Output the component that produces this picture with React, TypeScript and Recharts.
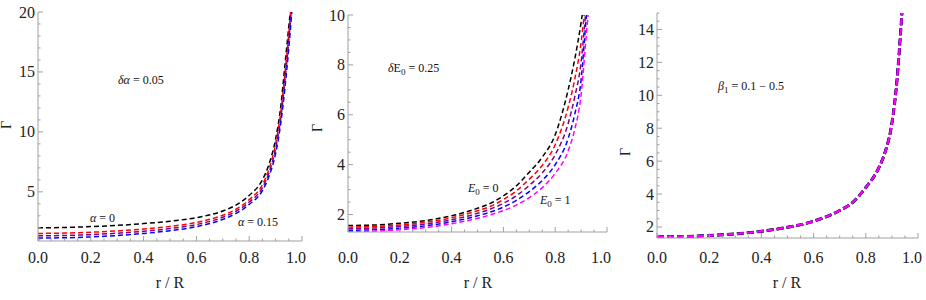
import React from 'react';
import { LineChart, Line, XAxis, YAxis } from 'recharts';

// shared x ticks (r / R)
const xTicks = [0, 0.05, 0.1, 0.15, 0.2, 0.25, 0.3, 0.35, 0.4, 0.45, 0.5, 0.55, 0.6, 0.65, 0.7, 0.75, 0.8, 0.85, 0.9, 0.95, 1];
const xMajor = [0, 0.2, 0.4, 0.6, 0.8, 1];

// panel 1: alpha = 0 .. 0.15
const rAlpha = [0, 0.1, 0.2, 0.3, 0.4, 0.5, 0.6, 0.7, 0.75, 0.8, 0.85, 0.875, 0.9, 0.92, 0.935, 0.95, 0.96, 0.97];
const alpha0 = [2.0, 2.03, 2.1, 2.2, 2.35, 2.55, 2.85, 3.4, 3.9, 4.7, 6.0, 7.3, 9.4, 12.2, 15.5, 18.8, 21, 24];
const alpha005 = [1.53, 1.56, 1.63, 1.74, 1.9, 2.12, 2.45, 3.05, 3.55, 4.35, 5.6, 6.9, 9.0, 11.7, 14.8, 18.2, 20.8, 23.5];
const alpha010 = [1.33, 1.36, 1.43, 1.55, 1.71, 1.94, 2.27, 2.88, 3.38, 4.15, 5.35, 6.6, 8.6, 11.2, 14.2, 17.6, 20.2, 23];
const alpha015 = [1.14, 1.17, 1.24, 1.36, 1.53, 1.76, 2.1, 2.7, 3.2, 3.95, 5.1, 6.3, 8.2, 10.8, 13.6, 17, 19.6, 22.5];
const alphaYTicks = [1, 2, 3, 4, 5, 6, 7, 8, 9, 10, 11, 12, 13, 14, 15, 16, 17, 18, 19, 20];
const alphaYMajor = [5, 10, 15, 20];

// panel 2: E0 = 0 .. 1
const rE = [0, 0.1, 0.2, 0.3, 0.4, 0.5, 0.55, 0.6, 0.65, 0.7, 0.75, 0.8, 0.85, 0.875, 0.9, 0.92, 0.935];
const e0 = [1.56, 1.58, 1.65, 1.76, 1.95, 2.25, 2.45, 2.75, 3.15, 3.7, 4.3, 5.2, 7.0, 8.2, 9.7, 11.2, 12.5];
const e025 = [1.5, 1.52, 1.58, 1.69, 1.87, 2.15, 2.33, 2.6, 2.95, 3.42, 3.97, 4.8, 6.3, 7.4, 8.9, 10.8, 12.1];
const e050 = [1.44, 1.46, 1.52, 1.62, 1.79, 2.05, 2.22, 2.45, 2.75, 3.17, 3.67, 4.4, 5.65, 6.7, 8.1, 10.3, 11.6];
const e075 = [1.37, 1.39, 1.45, 1.55, 1.71, 1.95, 2.1, 2.3, 2.57, 2.92, 3.37, 4.0, 5.05, 6.0, 7.4, 9.9, 11.5];
const e1 = [1.31, 1.33, 1.39, 1.48, 1.63, 1.85, 1.99, 2.16, 2.38, 2.68, 3.08, 3.65, 4.55, 5.4, 6.8, 9.2, 10.9];
const eYTicks = [1.5, 2, 2.5, 3, 3.5, 4, 4.5, 5, 5.5, 6, 6.5, 7, 7.5, 8, 8.5, 9, 9.5, 10];
const eYMajor = [2, 4, 6, 8, 10];

// panel 3: beta1 = 0.1 .. 0.5 (curves coincide)
const rBeta = [0, 0.1, 0.2, 0.3, 0.4, 0.5, 0.6, 0.7, 0.75, 0.8, 0.85, 0.875, 0.9, 0.92, 0.935, 0.945, 0.955];
const beta = [1.4, 1.42, 1.48, 1.58, 1.74, 1.98, 2.35, 3.0, 3.5, 4.4, 5.6, 6.6, 8.3, 11.0, 14.2, 16.5, 19];
const bYTicks = [1.5, 2, 2.5, 3, 3.5, 4, 4.5, 5, 5.5, 6, 6.5, 7, 7.5, 8, 8.5, 9, 9.5, 10, 10.5, 11, 11.5, 12, 12.5, 13, 13.5, 14, 14.5, 15];
const bYMajor = [2, 4, 6, 8, 10, 12, 14];

const FRAME = '#a0a0a0';
const FONT = 'Liberation Serif, Times New Roman, serif';
const LABEL_BASE = 263;
const EXTRA = 20; // room on the right so the "1.0" label is not clipped

type Series = { values: number[]; color: string; width: number; dash: string };

const isIn = (list: number[], v: number) => list.some((m) => Math.abs(m - v) < 1e-9);

function tickShape(side: string, major: number[], fmt?: (v: number) => string) {
  return (p: any) => {
    const v = p.payload.value;
    const big = isIn(major, v);
    const len = big ? 5 : 2.5;
    const { x, y } = p;
    if (side === 'bottom') {
      // the last label sits a little inside the frame, as in the original
      const lx = v === 1 ? x - 6 : x;
      return (
        <g>
          <line x1={x} y1={y} x2={x} y2={y - len} stroke={FRAME} />
          {big && fmt ? (
            <text x={lx} y={LABEL_BASE} textAnchor="middle" style={{ fontFamily: FONT, fontSize: 16 }} fill="#222">{fmt(v)}</text>
          ) : null}
        </g>
      );
    }
    if (side === 'top') return <line x1={x} y1={y} x2={x} y2={y + len} stroke={FRAME} />;
    if (side === 'left') {
      return (
        <g>
          <line x1={x} y1={y} x2={x + len} y2={y} stroke={FRAME} />
          {big && fmt ? (
            <text x={x - 3} y={y + 5.5} textAnchor="end" style={{ fontFamily: FONT, fontSize: 16 }} fill="#222">{fmt(v)}</text>
          ) : null}
        </g>
      );
    }
    return <line x1={x} y1={y} x2={x - len} y2={y} stroke={FRAME} />;
  };
}

type PanelProps = {
  left: number;
  r: number[];
  series: Series[];
  yDomain: [number, number];
  yTicks: number[];
  yMajor: number[];
  yWidth: number;
  marginRight: number;
  marginTop: number;
  xHeight: number;
};

function Panel({ left, r, series, yDomain, yTicks, yMajor, yWidth, marginRight, marginTop, xHeight }: PanelProps) {
  const data = r.map((rv, i) => {
    const row: Record<string, number> = { r: rv };
    series.forEach((s, k) => { row['s' + k] = s.values[i]; });
    return row;
  });
  return (
    <div style={{ position: 'absolute', left, top: 0 }}>
      <LineChart width={310 + EXTRA} height={300} data={data} margin={{ top: marginTop, right: marginRight + EXTRA, left: 0, bottom: 0 }}>
        <XAxis dataKey="r" type="number" domain={[0, 1]} ticks={xTicks} interval={0} height={xHeight}
          tickSize={0} tickMargin={0} tickLine={false} stroke={FRAME}
          tick={tickShape('bottom', xMajor, (v) => v.toFixed(1))} />
        <XAxis xAxisId="top" orientation="top" dataKey="r" type="number" domain={[0, 1]} ticks={xTicks} interval={0} height={0}
          tickSize={0} tickMargin={0} tickLine={false} stroke={FRAME}
          tick={tickShape('top', xMajor)} />
        <YAxis type="number" domain={yDomain} allowDataOverflow ticks={yTicks} interval={0} width={yWidth}
          tickSize={0} tickMargin={0} tickLine={false} stroke={FRAME}
          tick={tickShape('left', yMajor, (v) => String(v))} />
        <YAxis yAxisId="right" orientation="right" type="number" domain={yDomain} allowDataOverflow ticks={yTicks} interval={0} width={0}
          tickSize={0} tickMargin={0} tickLine={false} stroke={FRAME}
          tick={tickShape('right', yMajor)} />
        {series.map((s, k) => (
          <Line key={k} dataKey={'s' + k} type="monotone" stroke={s.color} strokeWidth={s.width}
            strokeDasharray={s.dash} dot={false} activeDot={false} isAnimationActive={false} />
        ))}
      </LineChart>
    </div>
  );
}

const thin = (values: number[], color: string): Series => ({ values, color, width: 1.5, dash: '5 3' });
const thick = (values: number[], color: string, width: number): Series => ({ values, color, width, dash: '7 3' });

const txt = { style: { fontFamily: FONT, fontSize: 12 }, fill: '#111' };

export default function App() {
  return (
    <div style={{ position: 'absolute', left: 0, top: 0, width: 926, height: 300, background: '#fff', overflow: 'hidden' }}>
      <Panel left={0} r={rAlpha} yDomain={[0.9, 20]} yTicks={alphaYTicks} yMajor={alphaYMajor}
        yWidth={38} marginRight={8} marginTop={12} xHeight={59}
        series={[thin(alpha0, '#000'), thin(alpha005, '#ff0000'), thin(alpha010, '#800080'), thin(alpha015, '#0000ff')]} />
      <Panel left={310} r={rE} yDomain={[1.3, 10]} yTicks={eYTicks} yMajor={eYMajor}
        yWidth={38} marginRight={13} marginTop={15} xHeight={68}
        series={[thin(e0, '#000'), thin(e025, '#ff0000'), thin(e050, '#800080'), thin(e075, '#0000ff'), thin(e1, '#ff00ff')]} />
      <Panel left={616} r={rBeta} yDomain={[1.33, 15]} yTicks={bYTicks} yMajor={bYMajor}
        yWidth={41} marginRight={8} marginTop={13} xHeight={62}
        series={[thick(beta, '#000', 3), thick(beta, '#0000ff', 2.4), thick(beta, '#800080', 2.2), thick(beta, '#ff00ff', 2)]} />
      <svg width={926} height={300} style={{ position: 'absolute', left: 0, top: 0, pointerEvents: 'none' }}>
        <g style={{ fontFamily: FONT, fontSize: 16 }} fill="#222" textAnchor="middle">
          <text x={170} y={288}>r / R</text>
          <text x={478} y={288}>r / R</text>
          <text x={787} y={288}>r / R</text>
        </g>
        <g style={{ fontFamily: FONT, fontSize: 14 }} fill="#222" textAnchor="middle">
          <text transform="translate(11,125) rotate(-90)">Γ</text>
          <text transform="translate(322,128) rotate(-90)">Γ</text>
          <text transform="translate(630,152) rotate(-90)">Γ</text>
        </g>
        <text x={118} y={84} {...txt}><tspan fontStyle="italic">δα</tspan> = 0.05</text>
        <text x={90} y={222} {...txt}><tspan fontStyle="italic">α</tspan> = 0</text>
        <text x={238} y={226} {...txt}><tspan fontStyle="italic">α</tspan> = 0.15</text>
        <text x={388} y={72} {...txt}><tspan fontStyle="italic">δ</tspan>E<tspan fontSize={9} dy={3}>0</tspan><tspan dy={-3}> = 0.25</tspan></text>
        <text x={468} y={192} {...txt}><tspan fontStyle="italic">E</tspan><tspan fontSize={9} dy={3}>0</tspan><tspan dy={-3}> = 0</tspan></text>
        <text x={540} y={204} {...txt}><tspan fontStyle="italic">E</tspan><tspan fontSize={9} dy={3}>0</tspan><tspan dy={-3}> = 1</tspan></text>
        <text x={718} y={90} {...txt}><tspan fontStyle="italic">β</tspan><tspan fontSize={9} dy={3}>1</tspan><tspan dy={-3}> = 0.1 − 0.5</tspan></text>
      </svg>
    </div>
  );
}
